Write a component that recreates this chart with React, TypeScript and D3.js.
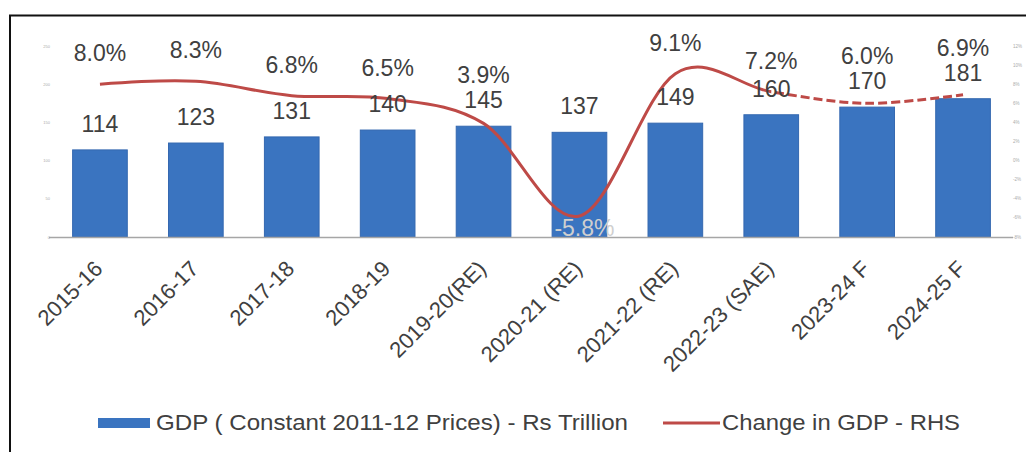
import React from 'react';
import * as d3 from 'd3';

const categories = [
  '2015-16',
  '2016-17',
  '2017-18',
  '2018-19',
  '2019-20(RE)',
  '2020-21 (RE)',
  '2021-22 (RE)',
  '2022-23 (SAE)',
  '2023-24 F',
  '2024-25 F',
];
const gdpValues = [114, 123, 131, 140, 145, 137, 149, 160, 170, 181];
const gdpChange = [8.0, 8.3, 6.8, 6.5, 3.9, -5.8, 9.1, 7.2, 6.0, 6.9];
const forecastFromIndex = 7;
const leftTicks = [0, 50, 100, 150, 200, 250];
const rightTicks = [-8, -6, -4, -2, 0, 2, 4, 6, 8, 10, 12];
const legendLabels = ['GDP ( Constant 2011-12 Prices) - Rs Trillion', 'Change in GDP - RHS'];

const W = 1026;
const H = 452;
const FONT = '"Liberation Sans", Arial, sans-serif';
const BAR = '#3A74C0';
const LINE = '#BE4A47';
const TEXT = '#404040';

export default function App() {
  const x = d3
    .scaleBand<string>()
    .domain(categories)
    .range([52, 1011])
    .paddingInner(0.43)
    .paddingOuter(0.215);
  const yL = d3.scaleLinear().domain([0, 250]).range([237, 46]);
  const yR = d3.scaleLinear().domain([-8, 12]).range([237, 46]);
  const cx = (i: number) => (x(categories[i]) as number) + x.bandwidth() / 2;

  const pts: [number, number][] = gdpChange.map((v, i) => [cx(i), yR(v)]);
  const linePath = d3.line().curve(d3.curveCardinal.tension(0))(pts) as string;
  const splitX = cx(forecastFromIndex);

  const barLabelBase = (i: number) => yL(gdpValues[i]) - 18;
  const pctBase = (i: number) => {
    const v = gdpChange[i];
    const py = yR(v);
    if (v < 0) return py + 20;
    let b = py - 23;
    const top = barLabelBase(i) - 17;
    if (b > top - 8) b = top - 8;
    return b;
  };

  return (
    <svg
      width={W}
      height={H}
      style={{ position: 'absolute', left: 0, top: 0, background: '#fff' }}
      fontFamily={FONT}
    >
      <defs>
        <clipPath id="solidPart">
          <rect x={0} y={0} width={splitX} height={H} />
        </clipPath>
        <clipPath id="dashPart">
          <rect x={splitX} y={0} width={W - splitX} height={H} />
        </clipPath>
      </defs>
      <rect x={0} y={0} width={W} height={H} fill="#fff" />
      {/* frame */}
      <line x1={9} x2={W} y1={15.5} y2={15.5} stroke="#111" strokeWidth={2} />
      <line x1={10} x2={10} y1={15} y2={H} stroke="#111" strokeWidth={2} />

      {/* left axis tiny labels */}
      {leftTicks.map((t) => (
        <text
          key={'l' + t}
          x={50}
          y={yL(t) + 1.5}
          fontSize={4}
          textAnchor="end"
          fill="#aaa"
        >
          {t}
        </text>
      ))}
      {/* right axis tiny labels */}
      {rightTicks.map((t) => (
        <text key={'r' + t} x={1013} y={yR(t) + 1.5} fontSize={4.5} fill="#aaa">
          {t + '%'}
        </text>
      ))}

      {/* bars */}
      {gdpValues.map((v, i) => (
        <rect
          key={'b' + i}
          x={x(categories[i])}
          y={yL(v)}
          width={x.bandwidth()}
          height={yL(0) - yL(v)}
          fill={BAR}
          stroke="#3468B0"
          strokeWidth={1}
        />
      ))}

      {/* x axis line */}
      <line x1={49} x2={1013} y1={237.5} y2={237.5} stroke="#a6a6a6" strokeWidth={1.5} />

      {/* change line */}
      <path d={linePath} fill="none" stroke={LINE} strokeWidth={3} clipPath="url(#solidPart)" />
      <path
        d={linePath}
        fill="none"
        stroke={LINE}
        strokeWidth={3}
        strokeDasharray="9,4"
        clipPath="url(#dashPart)"
      />

      {/* bar value labels */}
      {gdpValues.map((v, i) => (
        <text
          key={'bl' + i}
          x={cx(i)}
          y={barLabelBase(i)}
          fontSize={23}
          textAnchor="middle"
          fill={TEXT}
        >
          {v}
        </text>
      ))}

      {/* pct labels */}
      {gdpChange.map((v, i) => (
        <text
          key={'pl' + i}
          x={cx(i) + (v < 0 ? 5 : 0)}
          y={pctBase(i)}
          fontSize={23}
          textAnchor="middle"
          fill={v < 0 ? '#cfcfcf' : TEXT}
        >
          {v.toFixed(1) + '%'}
        </text>
      ))}

      {/* category labels */}
      {categories.map((c, i) => (
        <text
          key={'c' + i}
          transform={`translate(${cx(i) + 4},${270}) rotate(-45)`}
          fontSize={22}
          textAnchor="end"
          fill={TEXT}
        >
          {c}
        </text>
      ))}

      {/* legend */}
      <rect x={98} y={418} width={52} height={10} fill={BAR} />
      <text x={156} y={429.5} fontSize={22} fill={TEXT} textLength={472} lengthAdjust="spacingAndGlyphs">
        {legendLabels[0]}
      </text>
      <line x1={663} x2={720} y1={423} y2={423} stroke={LINE} strokeWidth={3} />
      <text x={722} y={429.5} fontSize={22} fill={TEXT} textLength={238} lengthAdjust="spacingAndGlyphs">
        {legendLabels[1]}
      </text>
    </svg>
  );
}
